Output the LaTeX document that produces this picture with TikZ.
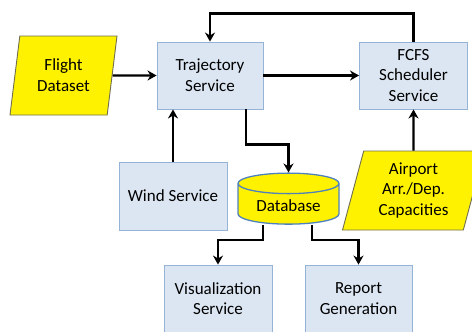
\documentclass[tikz,border=0pt]{standalone}
\usepackage{fontspec}
\setmainfont{Carlito}
\usetikzlibrary{arrows.meta,shapes.geometric,calc}
\definecolor{boxfill}{HTML}{DCE6F2}
\definecolor{boxline}{HTML}{95B3D7}
\definecolor{dbline}{HTML}{4F81BD}
\definecolor{dataline}{HTML}{6F6F4F}

\tikzset{
  service/.style={rectangle, draw=boxline, fill=boxfill, line width=0.9bp, align=center,
    minimum width=108bp, minimum height=67bp, inner sep=2bp},
  dataset/.style={trapezium, trapezium stretches body, draw=dataline, fill=yellow,
    line width=0.9bp, align=center, minimum height=79bp, inner sep=2bp},
  store/.style={cylinder, shape border rotate=90, aspect=0.3, draw=dbline, fill=yellow,
    line width=1.3bp, minimum width=101bp, minimum height=51bp, inner sep=2bp},
  flow/.style={line width=2.2bp, -{Stealth[length=9bp,width=10bp]}},
}

\begin{document}
\begin{tikzpicture}[x=1bp,y=-1bp,font=\fontsize{17bp}{20.7bp}\selectfont]
    \clip (0,0) rectangle (472,331);
    \node[dataset, trapezium left angle=75, trapezium right angle=105, minimum width=107bp] (flight) at (63.5,75.5) {Flight\\Dataset};
    \node[service, minimum width=106bp] (traj) at (210,75.5) {Trajectory\\Service};
    \node[service] (fcfs) at (413.5,75.5) {FCFS\\Scheduler\\Service};
    \node[service, minimum height=68bp] (wind) at (173,196) {Wind Service};
    \node[dataset, trapezium left angle=70.5, trapezium right angle=109.5, minimum width=142bp] (airport) at (413.5,190.5) {Airport\\Arr./Dep.\\Capacities};
    \node[store] (db) at (288.5,205.5) {\raisebox{-4bp}{Database}};
    \node[service] (vis) at (218,298.5) {Visualization\\Service};
    \node[service, minimum width=107bp] (report) at (358.5,298.5) {Report\\Generation};

    \draw[flow] (flight) -- (traj);
    \draw[flow] (traj) -- (fcfs);
    \draw[flow] (wind.north) -- (wind.north |- traj.south);
    \draw[flow] (airport) -- (fcfs);
    \draw[flow] (fcfs.north) -- ++(0,-28) -| (traj.north);
    \draw[flow] ($(traj.south)+(36,0)$) -- ++(0,35) -| (db.north);
    \draw[flow] ($(db.south)+(-25.5,0)$) -- ++(0,15) -| (vis.north);
    \draw[flow] ($(db.south)+(23.5,0)$) -- ++(0,15) -| (report.north);
\end{tikzpicture}
\end{document}
